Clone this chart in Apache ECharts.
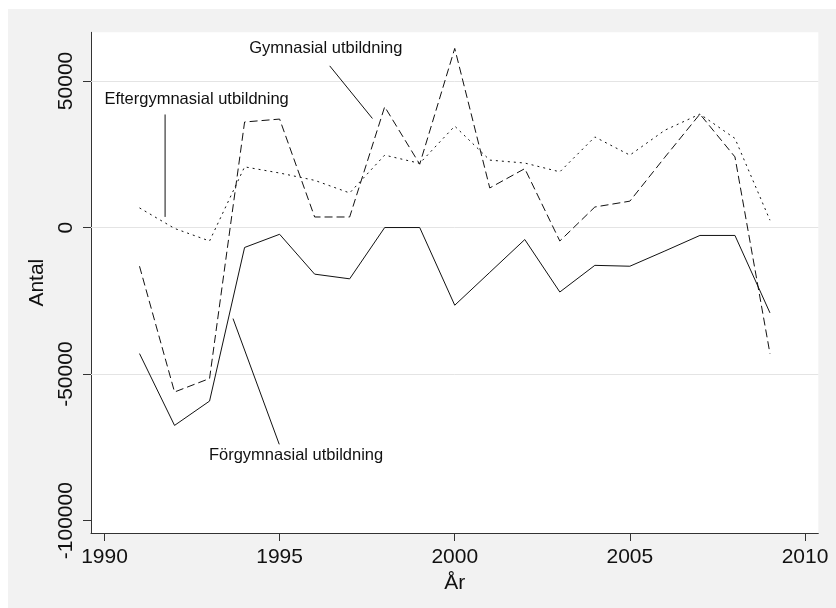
<!DOCTYPE html>
<html>
<head>
<meta charset="utf-8">
<script src="https://cdn.jsdelivr.net/npm/echarts@6/dist/echarts.min.js"></script>
<style>
html,body{margin:0;padding:0;background:#fff;}
#c{width:836px;height:608px;}
</style>
</head>
<body>
<div id="c"></div>
<script>
const years = [1991,1992,1993,1994,1995,1996,1997,1998,1999,2000,2001,2002,2003,2004,2005,2006,2007,2008,2009];
const forgymnasial = [-43000,-67500,-59200,-6800,-2300,-15900,-17500,0,0,-26500,-15300,-4100,-22000,-12900,-13200,-8000,-2700,-2700,-29100];
const gymnasial = [-13200,-56100,-51500,36000,37000,3600,3600,41200,21600,61100,13500,20100,-4600,7000,9000,24000,38700,24100,-43000];
const eftergymnasial = [6700,-300,-4600,20700,18600,16100,11800,24700,21900,34600,23000,22000,19000,30900,24700,33200,38700,30400,2500];
const xTicks = [1990,1995,2000,2005,2010];
const yTicks = [-100000,-50000,0,50000];
const gridValues = [-50000,0,50000];

// annotation labels and their pointer lines (data coordinates)
const annoGym = {text:'Gymnasial utbildning', at:[1996.32,61250], line:[[1996.43,55150],[1997.65,37200]]};
const annoEfter = {text:'Eftergymnasial utbildning', at:[1992.63,43750], line:[[1991.73,38570],[1991.73,3620]]};
const annoFor = {text:'Förgymnasial utbildning', at:[1995.47,-77580], line:[[1993.67,-31060],[1994.99,-73960]]};

const FONT = 'Liberation Sans, Arial, sans-serif';
const INK = '#111111';

function pairs(xs, ys){ return xs.map((x,i)=>[x, ys[i]]); }

function dataLine(name, vals, dash){
  return {
    name, type:'line', data: pairs(years, vals), symbol:'none', silent:true,
    lineStyle:{color:INK, width:1, type:dash}, z:5, animation:false
  };
}
function pointer(a){
  return {type:'line', data:a.line, symbol:'none', silent:true, lineStyle:{color:INK,width:1,type:'solid'}, z:6, animation:false};
}
function label(a){
  return {type:'scatter', data:[a.at], symbolSize:0, silent:true, animation:false, z:7,
    itemStyle:{color:INK, opacity:1},
    label:{show:true, position:'inside', formatter:a.text, color:INK, textBorderWidth:0, opacity:1,
      fontFamily:FONT, fontSize:16.5}};
}

const chart = echarts.init(document.getElementById('c'), null, {renderer:'canvas'});
chart.setOption({
  backgroundColor:'#ffffff',
  animation:false,
  graphic:[{type:'rect', shape:{x:8,y:9,width:828,height:599}, style:{fill:'#f2f2f2'}, z:-10, silent:true}],
  grid:{left:91, top:32.3, right:17.7, bottom:75, show:true, backgroundColor:'#ffffff', borderWidth:0},
  xAxis:{
    type:'value', min:1989.615, max:2010.38,
    name:'År', nameLocation:'middle', nameGap:36,
    nameTextStyle:{fontFamily:FONT, fontSize:21, color:INK},
    axisLine:{show:true, onZero:false, lineStyle:{color:'#333', width:1}},
    axisTick:{show:true, length:8, customValues:xTicks, lineStyle:{color:'#333'}},
    axisLabel:{customValues:xTicks, fontFamily:FONT, fontSize:21, color:INK, margin:14, formatter:v=>String(v)},
    splitLine:{show:false}
  },
  yAxis:{
    type:'value', min:-104200, max:66600,
    name:'Antal', nameLocation:'middle', nameGap:38, nameRotate:90,
    nameTextStyle:{fontFamily:FONT, fontSize:21, color:INK},
    axisLine:{show:true, onZero:false, lineStyle:{color:'#333', width:1}},
    axisTick:{show:true, length:8, customValues:yTicks, lineStyle:{color:'#333'}},
    axisLabel:{customValues:yTicks, rotate:90, fontFamily:FONT, fontSize:21, color:INK, margin:14, formatter:v=>String(v)},
    splitLine:{show:false}
  },
  series:[
    Object.assign(dataLine('Förgymnasial utbildning', forgymnasial, 'solid'), {
      markLine:{silent:true, symbol:'none', label:{show:false}, animation:false,
        lineStyle:{color:'#e4e4e4', width:1, type:'solid'},
        data: gridValues.map(v=>({yAxis:v}))}
    }),
    dataLine('Gymnasial utbildning', gymnasial, [8,4]),
    dataLine('Eftergymnasial utbildning', eftergymnasial, [2,4]),
    pointer(annoGym), pointer(annoEfter), pointer(annoFor),
    label(annoGym), label(annoEfter), label(annoFor)
  ]
});
</script>
</body>
</html>
